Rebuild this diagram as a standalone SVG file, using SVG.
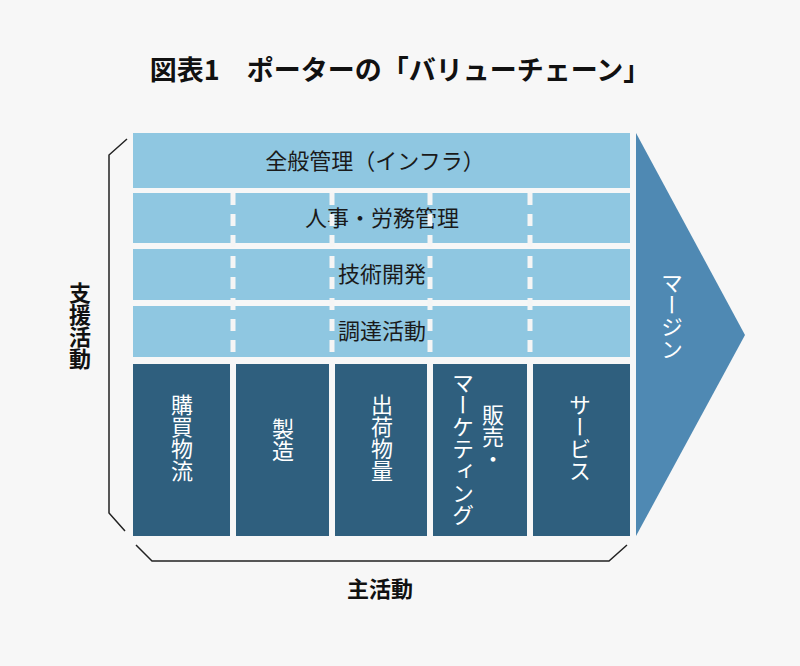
<svg xmlns="http://www.w3.org/2000/svg" width="800" height="666" viewBox="0 0 800 666">
<style>
text{font-family:"Noto Sans CJK JP","Noto Sans",sans-serif;}
.l{fill:#8fc7e1}.d{fill:#2f5f7e}
.t{font-size:22px;fill:#1a1a1a;text-anchor:middle}
.v{font-size:22px;fill:#fff;writing-mode:vertical-rl;text-anchor:start}
.vd{font-size:22px;fill:#fff;writing-mode:vertical-rl;text-anchor:start}
.b{font-weight:bold;fill:#111}
.dash{stroke:#f5f5f5;stroke-width:5;stroke-dasharray:12 9}
.br{fill:none;stroke:#222;stroke-width:1.5}
</style>
<rect width="800" height="666" fill="#f7f7f7"/>
<text x="400" y="80" class="b" font-size="27" text-anchor="middle">図表1　ポーターの「バリューチェーン」</text>
<g id="connectors">
<path class="br" d="M127,139 L109,155 L109,513 L125,531"/>
<path class="br" d="M136,545 L152,561 L609,561 L627,545"/>
</g>
<g id="margin"><polygon points="636,133 745,335 636,536" fill="#4f89b3"/><text x="672" y="272" class="v">マージン</text></g>
<g id="infra"><rect class="l" x="133" y="133" width="497" height="55"/><text class="t" x="375" y="169">全般管理（インフラ）</text></g>
<g id="hr"><rect class="l" x="133" y="193" width="497" height="50"/><text class="t" x="382" y="226">人事・労務管理</text></g>
<g id="tech"><rect class="l" x="133" y="249" width="497" height="51"/><text class="t" x="382" y="282">技術開発</text></g>
<g id="proc"><rect class="l" x="133" y="306" width="497" height="51"/><text class="t" x="382" y="339">調達活動</text></g>
<g id="dashes">
<line class="dash" x1="233" y1="193" x2="233" y2="357"/>
<line class="dash" x1="332" y1="193" x2="332" y2="357"/>
<line class="dash" x1="430" y1="193" x2="430" y2="357"/>
<line class="dash" x1="530" y1="193" x2="530" y2="357"/>
</g>
<g id="c1"><rect class="d" x="133" y="364" width="97" height="172"/><text class="v" x="182" y="394">購買物流</text></g>
<g id="c2"><rect class="d" x="236" y="364" width="93" height="172"/><text class="v" x="283" y="418">製造</text></g>
<g id="c3"><rect class="d" x="335" y="364" width="92" height="172"/><text class="v" x="382" y="394">出荷物量</text></g>
<g id="c4"><rect class="d" x="433" y="364" width="94" height="172"/><text class="v" x="493" y="404" font-size="20">販売・</text><text class="v" x="463" y="372" font-size="20">マーケティング</text></g>
<g id="c5"><rect class="d" x="533" y="364" width="97" height="172"/><text class="v" x="580" y="394">サービス</text></g>
<text x="80" y="282" class="b" font-size="22" style="writing-mode:vertical-rl">支援活動</text>
<text x="380" y="597" class="b" font-size="22" text-anchor="middle">主活動</text>
</svg>
